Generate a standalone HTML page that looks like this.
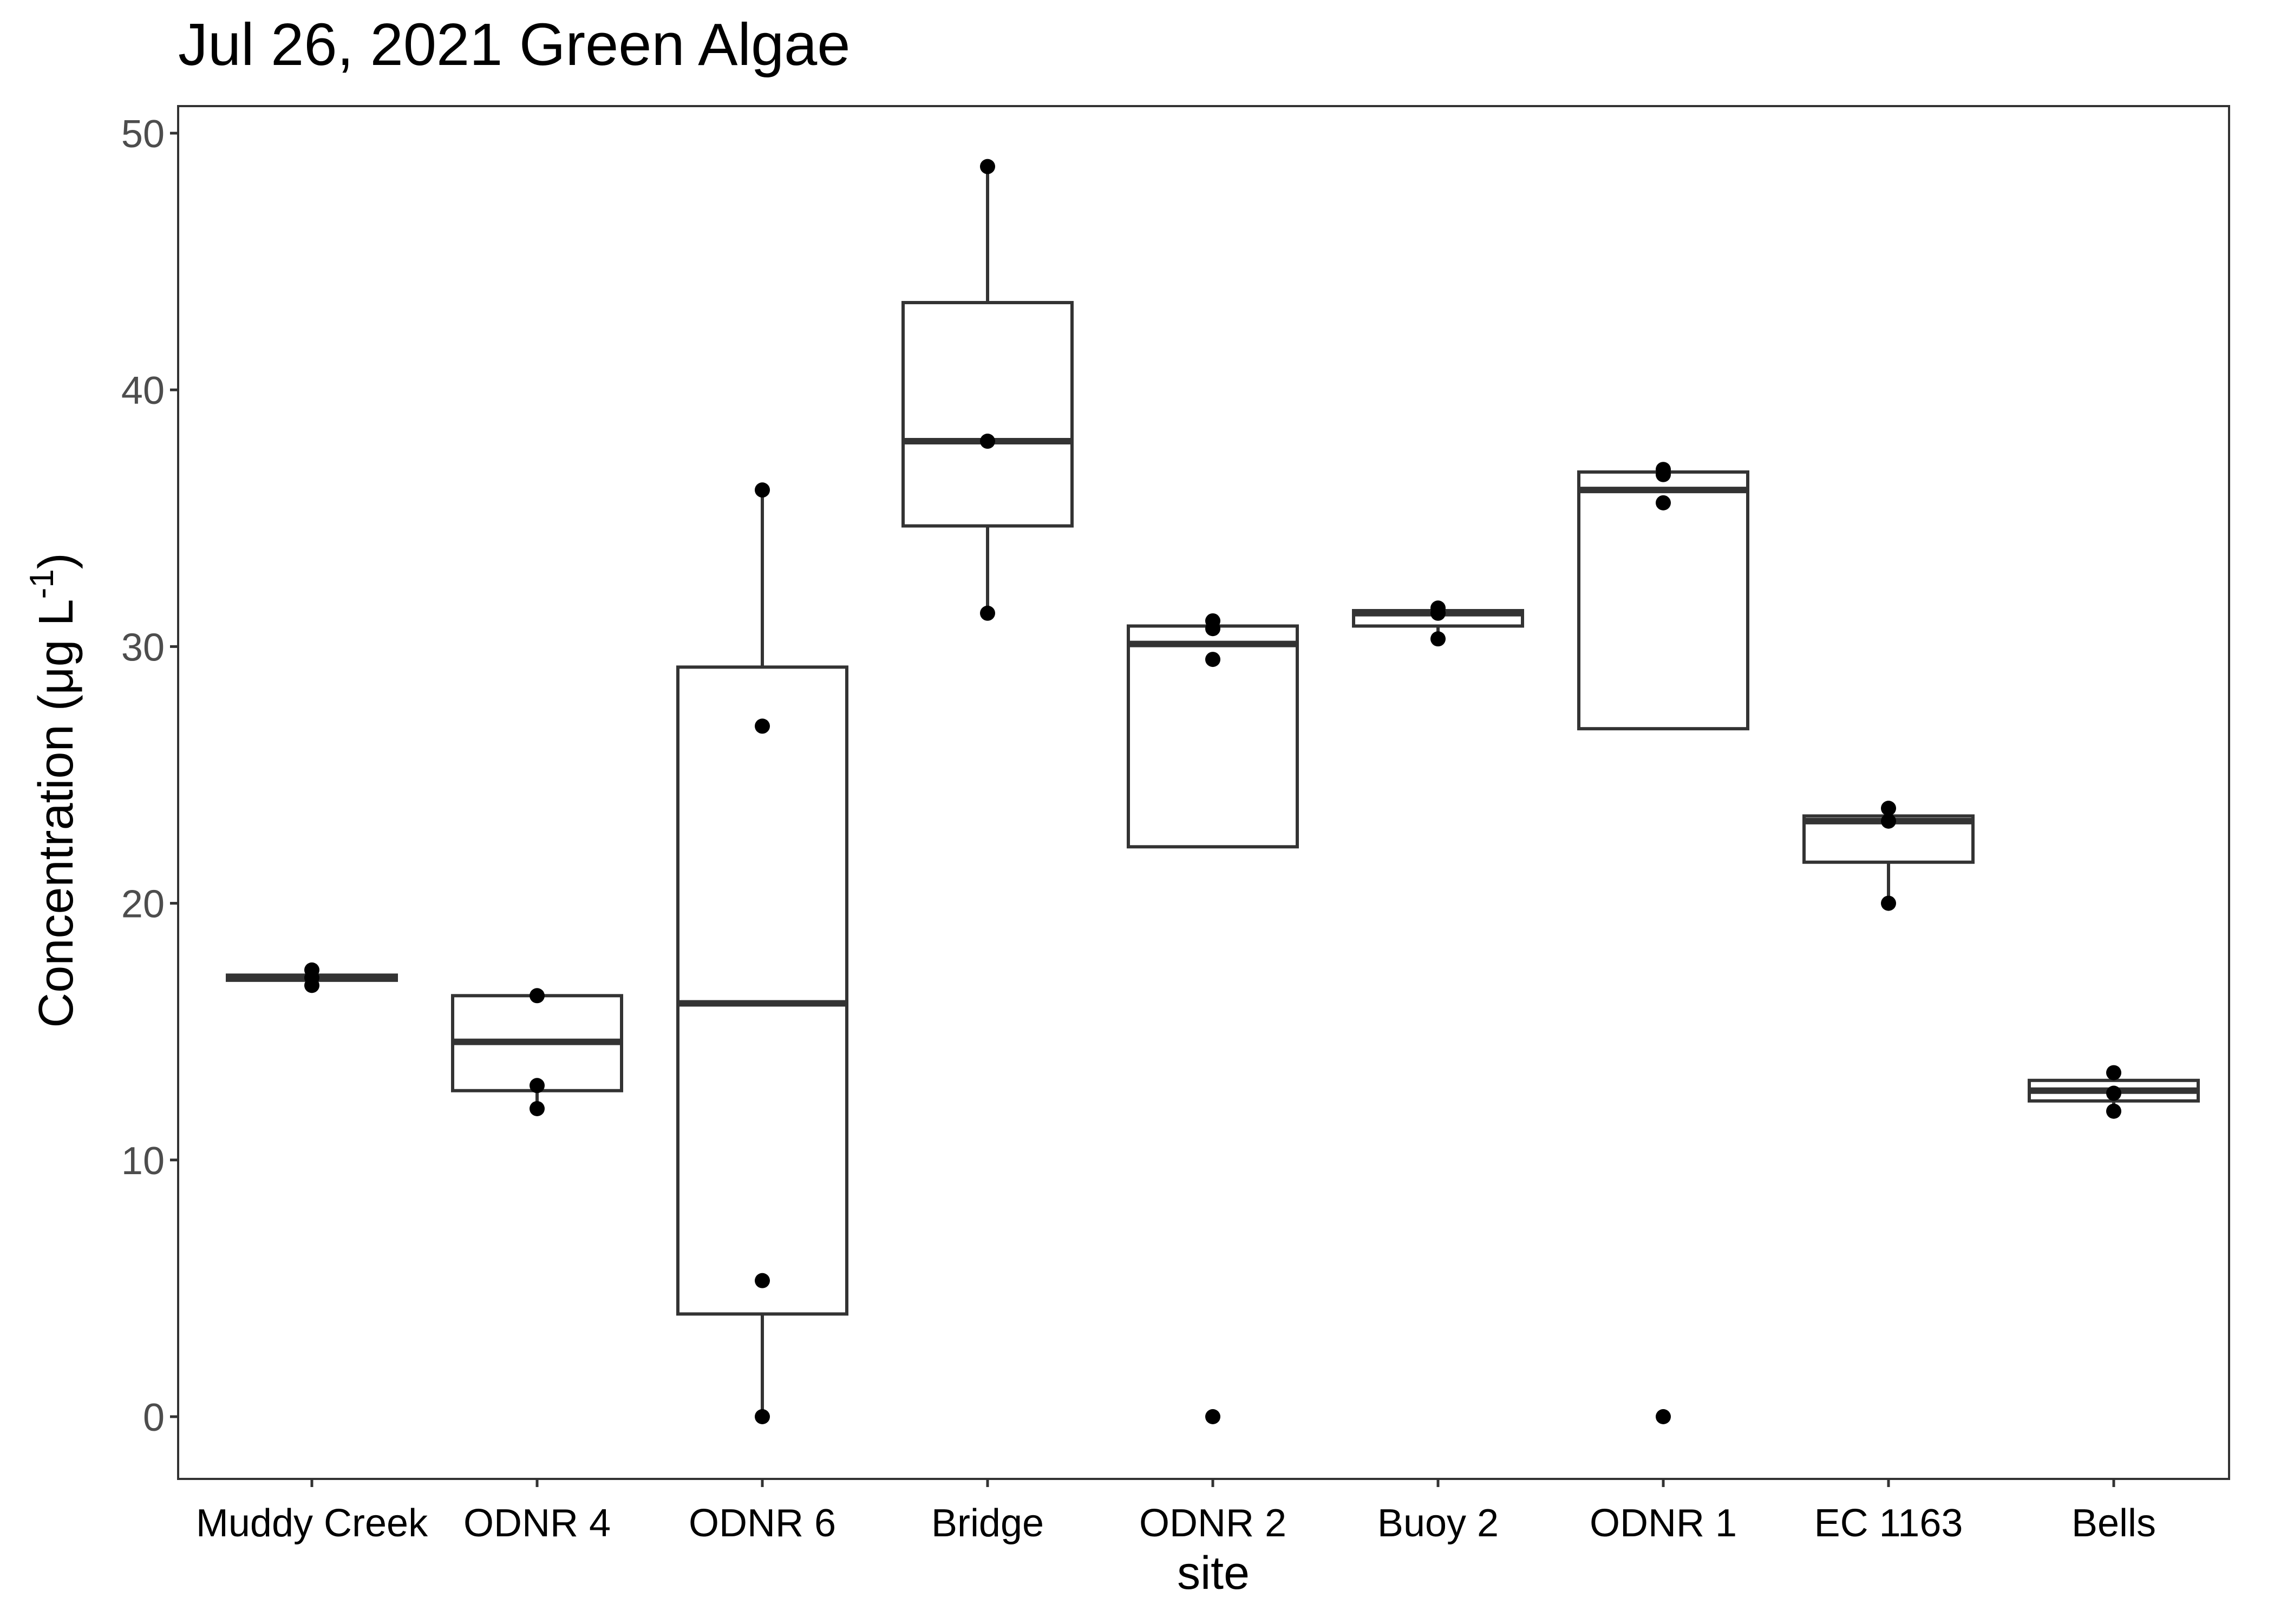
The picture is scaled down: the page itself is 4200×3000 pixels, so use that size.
<!DOCTYPE html>
<html><head><meta charset="utf-8"><style>
html,body{margin:0;padding:0;background:#fff;}
svg{display:block;font-family:"Liberation Sans",sans-serif;}
</style></head><body>
<svg id="chart" width="4200" height="3000" viewBox="0 0 4200 3000">
<rect width="4200" height="3000" fill="#fff"/>
<text x="329" y="120" font-size="110" fill="#000">Jul 26, 2021 Green Algae</text>
<g id="plot"></g>
<text x="2241" y="2935" font-size="86" text-anchor="middle" fill="#000">site</text>
<text transform="translate(134,1460) rotate(-90)" font-size="90" text-anchor="middle" fill="#000">Concentration (μg L<tspan font-size="62" dy="-36">-1</tspan><tspan dy="36">)</tspan></text>
</svg>
<script>
const categories=["Muddy Creek","ODNR 4","ODNR 6","Bridge","ODNR 2","Buoy 2","ODNR 1","EC 1163","Bells"];
const q1=[17.0,12.7,4.0,34.7,22.2,30.8,26.8,21.6,12.3];
const medians=[17.1,14.6,16.1,38.0,30.1,31.3,36.1,23.2,12.7];
const q3=[17.2,16.4,29.2,43.4,30.8,31.4,36.8,23.4,13.1];
const whiskerLow=[16.8,12.0,0,31.3,22.2,30.3,26.8,20.0,11.9];
const whiskerHigh=[17.4,16.4,36.1,48.7,31.0,31.5,36.9,23.7,13.4];
const points=[[17.4,17.1,16.8],[16.4,12.9,12.0],[36.1,26.9,5.3,0],[48.7,38.0,31.3],[31.0,30.7,29.5,0],[31.5,31.3,30.3],[36.9,36.7,35.6,0],[23.7,23.2,20.0],[13.4,12.6,11.9]];
const yTicks=[0,10,20,30,40,50];

const L=329,R=4117,T=196,B=2732;
function y(v){return 2617-v*(2617-246)/50;}
const step=416;
function x(i){return 576+step*i;}
const NS="http://www.w3.org/2000/svg";
const g=document.getElementById('plot');
function mk(tag,attrs,parent){const e=document.createElementNS(NS,tag);for(const k in attrs)e.setAttribute(k,attrs[k]);(parent||g).appendChild(e);return e;}
const panel=mk('rect',{x:L,y:T,width:R-L,height:B-T,fill:'none',stroke:'#333',"stroke-width":4});


yTicks.forEach(t=>{
 const tk=mk('line',{x1:L-15,x2:L,y1:y(t),y2:y(t),stroke:'#333',"stroke-width":5});
 
 
 const lb=mk('text',{x:L-25,y:y(t)+26,"font-size":72,fill:'#4d4d4d',"text-anchor":'end'});
 lb.textContent=t;
 
 
});
const bw=step*0.75;
categories.forEach((c,i)=>{
 const cx=x(i);
 const tk=mk('line',{x1:cx,x2:cx,y1:B,y2:B+15,stroke:'#333',"stroke-width":5});
 
 
 const lb=mk('text',{x:cx,y:2838,"font-size":72,fill:'#000',"text-anchor":'middle'});
 lb.textContent=c;
 
 
 const grp=mk('g',{});
 
 
 mk('line',{x1:cx,x2:cx,y1:y(q3[i]),y2:y(whiskerHigh[i]),stroke:'#333',"stroke-width":6},grp);
 mk('line',{x1:cx,x2:cx,y1:y(q1[i]),y2:y(whiskerLow[i]),stroke:'#333',"stroke-width":6},grp);
 mk('rect',{x:cx-bw/2,y:y(q3[i]),width:bw,height:Math.max(0,y(q1[i])-y(q3[i])),fill:'#fff',stroke:'#333',"stroke-width":6},grp);
 mk('line',{x1:cx-bw/2,x2:cx+bw/2,y1:y(medians[i]),y2:y(medians[i]),stroke:'#333',"stroke-width":12},grp);
 points[i].forEach(p=>{
  const d=mk('circle',{cx:cx,cy:y(p),r:14,fill:'#000'});
  
  
 });
});
</script>
</body></html>
